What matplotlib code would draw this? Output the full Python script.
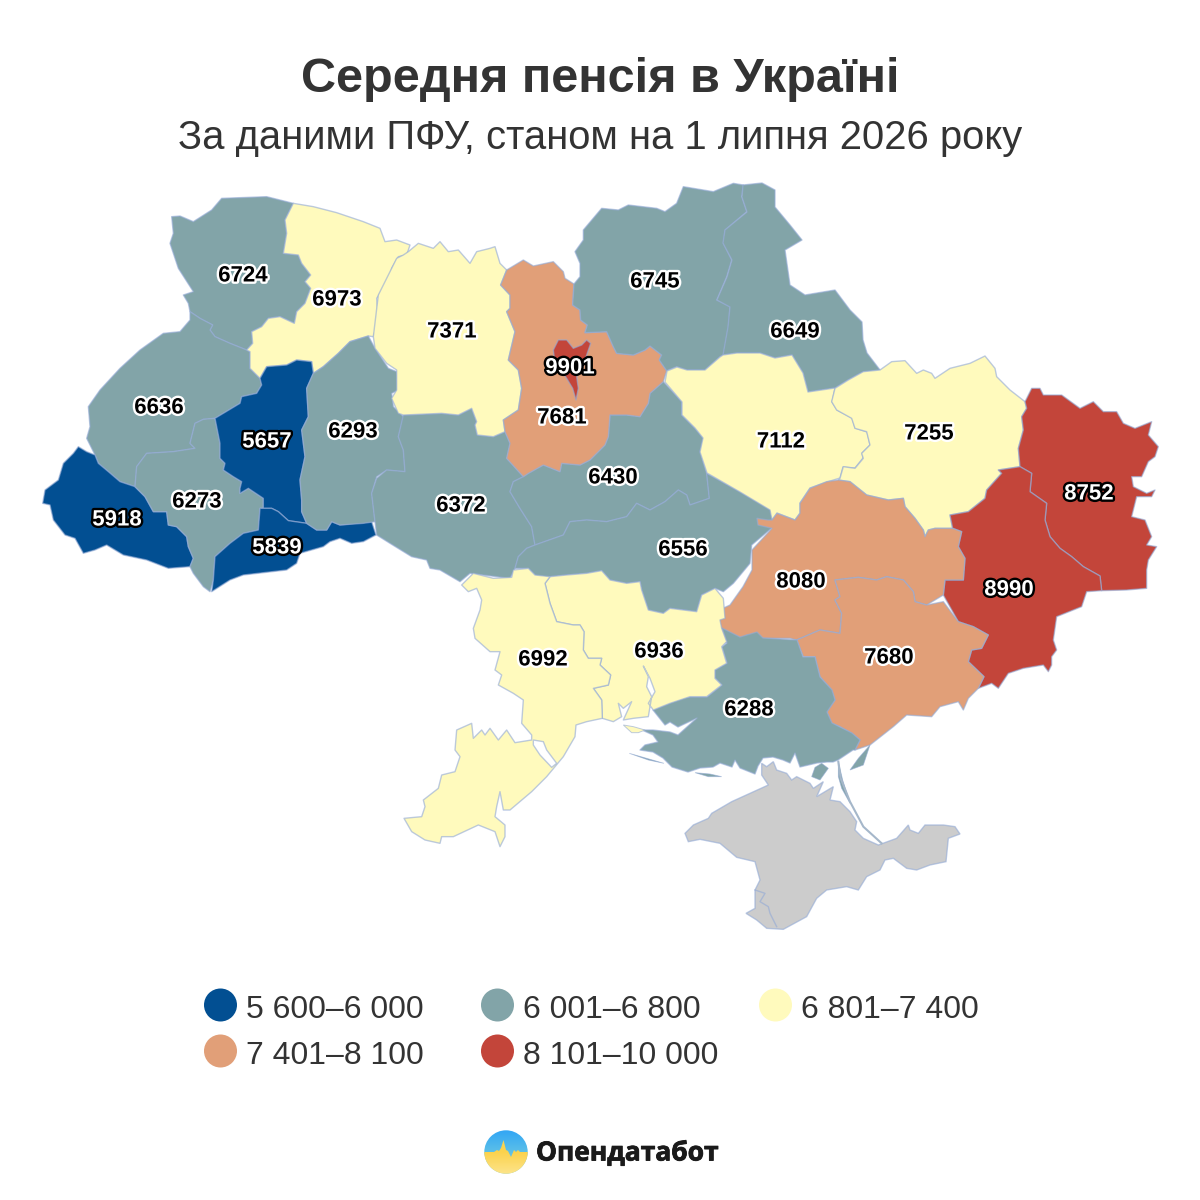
import numpy as np
import matplotlib
matplotlib.use("Agg")
import matplotlib.pyplot as plt
import matplotlib.patheffects as pe
from matplotlib.colors import BoundaryNorm, ListedColormap, LinearSegmentedColormap
from matplotlib.patches import Polygon, Circle

# ---------- data ----------
TITLE = "Середня пенсія в Україні"
SUBTITLE = "За даними ПФУ, станом на 1 липня 2026 року"
legend_labels = ["5 600–6 000", "6 001–6 800", "6 801–7 400", "7 401–8 100", "8 101–10 000"]
bin_edges = [5600, 6000.5, 6800.5, 7400.5, 8100.5, 10000]
bin_colors = ["#024f92", "#82a4a8", "#fffabd", "#e19f78", "#c3453a"]
no_data_color = "#cccccc"

values = {
    "Volyn": 6724, "Rivne": 6973, "Zhytomyr": 7371, "Chernihiv": 6745, "Sumy": 6649,
    "Kyiv city": 9901, "Kyiv": 7681, "Lviv": 6636, "Ternopil": 5657, "Khmelnytskyi": 6293,
    "Poltava": 7112, "Kharkiv": 7255, "Cherkasy": 6430, "Zakarpattia": 5918,
    "Ivano-Frankivsk": 6273, "Vinnytsia": 6372, "Chernivtsi": 5839, "Luhansk": 8752,
    "Kirovohrad": 6556, "Dnipro": 8080, "Donetsk": 8990, "Zaporizhzhia": 7680,
    "Mykolaiv": 6936, "Odesa": 6992, "Kherson": 6288,
}

# label anchor of each region (image pixels)
label_xy = {
    "Volyn": (243, 274), "Rivne": (337, 298), "Zhytomyr": (452, 330), "Chernihiv": (655, 280),
    "Sumy": (795, 330), "Kyiv city": (570, 366), "Kyiv": (562, 416), "Lviv": (159, 406),
    "Ternopil": (267, 440), "Khmelnytskyi": (353, 430), "Poltava": (781, 440), "Kharkiv": (929, 432),
    "Cherkasy": (613, 476), "Zakarpattia": (117, 518), "Ivano-Frankivsk": (197, 500),
    "Vinnytsia": (461, 504), "Chernivtsi": (277, 546), "Luhansk": (1089, 492), "Kirovohrad": (683, 548),
    "Dnipro": (801, 580), "Donetsk": (1009, 588), "Zaporizhzhia": (889, 656), "Mykolaiv": (659, 650),
    "Odesa": (543, 658), "Kherson": (749, 708),
}

# ---------- region geometry: traced at 3x from crops whose origin is given ----------
def crop(ox, oy, pts):
    return [(ox + x / 3, oy + y / 3) for x, y in pts]

A, B, C, D, E = (30, 180), (370, 180), (760, 340), (400, 560), (620, 680)

outlines = {
"Volyn": crop(*A, [(425,110),(450,108),(490,125),(545,90),(575,55),(710,50),(790,70),(765,120),(770,160),(760,220),(805,225),(815,250),(842,285),(825,305),(842,325),(825,370),(800,395),(793,430),(750,410),(715,415),(695,440),(665,455),(668,490),(650,510),(600,490),(555,470),(540,450),(548,435),(510,415),(480,395),(475,370),(460,345),(490,335),(445,265),(420,190),(430,160)]),
"Rivne": crop(*A, [(790,70),(850,80),(920,98),(1000,125),(1050,145),(1065,185),(1100,180),(1140,195),(1130,225),(1105,230),(1085,265),(1080,295),(1040,355),(1045,420),(1030,470),(1015,468),(960,485),(925,520),(880,560),(850,580),(845,545),(800,540),(770,555),(710,560),(690,595),(660,565),(660,515),(650,510),(668,490),(665,455),(695,440),(715,415),(750,410),(793,430),(800,395),(825,370),(842,325),(825,305),(842,285),(815,250),(805,225),(760,220),(770,160),(765,120)]),
"Lviv": crop(*A, [(480,395),(510,415),(548,435),(540,450),(555,470),(600,490),(650,510),(660,515),(660,565),(690,595),(695,615),(680,640),(635,650),(630,670),(555,715),(520,718),(495,730),(480,790),(495,805),(430,815),(350,820),(320,860),(315,920),(270,905),(235,875),(205,850),(195,825),(170,775),(180,740),(175,680),(210,630),(270,565),(330,510),(400,460),(450,455),(480,420)]),
"Ivano-Frankivsk": crop(*A, [(555,715),(570,790),(570,835),(585,850),(580,870),(610,890),(635,905),(630,925),(630,940),(655,925),(700,955),(700,985),(690,985),(685,1050),(640,1060),(600,1090),(555,1130),(550,1200),(540,1235),(520,1220),(490,1180),(480,1160),(490,1135),(475,1100),(470,1070),(440,1040),(415,1035),(410,995),(370,995),(345,950),(315,920),(320,860),(350,820),(430,815),(495,805),(480,790),(495,730),(520,718)]),
"Zakarpattia": crop(*A, [(145,800),(170,815),(195,825),(205,850),(235,875),(270,905),(315,920),(345,950),(370,995),(410,995),(415,1035),(440,1040),(470,1070),(475,1100),(490,1135),(480,1160),(415,1165),(350,1140),(280,1125),(230,1095),(195,1110),(160,1120),(135,1075),(105,1065),(70,1020),(60,975),(38,970),(45,930),(85,900),(100,850),(130,820)]),
"Ternopil": crop(*A, [(710,560),(770,555),(800,540),(845,545),(850,580),(830,625),(835,710),(815,750),(825,830),(810,900),(815,960),(815,995),(830,1030),(775,1022),(745,995),(725,985),(700,985),(700,955),(655,925),(630,940),(630,925),(635,905),(610,890),(580,870),(585,850),(570,835),(570,790),(555,715),(630,670),(635,650),(680,640),(695,615),(690,595)]),
"Chernivtsi": crop(*A, [(690,985),(725,985),(745,995),(775,1022),(830,1030),(860,1050),(890,1050),(905,1025),(930,1035),(1025,1025),(1038,1065),(1000,1085),(965,1090),(930,1075),(900,1085),(880,1100),(810,1120),(800,1150),(770,1170),(640,1185),(600,1200),(545,1235),(550,1200),(555,1130),(600,1090),(640,1060),(685,1050)]),
"Khmelnytskyi": crop(*A, [(850,580),(880,560),(925,520),(960,485),(1015,468),(1035,505),(1075,565),(1100,575),(1105,630),(1085,640),(1090,680),(1115,705),(1120,710),(1105,770),(1120,810),(1125,875),(1070,870),(1040,890),(1025,940),(1035,1025),(1000,1030),(930,1035),(905,1025),(890,1050),(860,1050),(830,1030),(815,995),(815,960),(810,900),(825,830),(815,750),(835,710),(830,625)]),
"Zhytomyr": crop(*B, [(115,215),(145,190),(190,205),(210,185),(235,215),(265,210),(300,250),(320,215),(360,205),(375,200),(390,250),(410,270),(392,315),(420,345),(420,385),(410,395),(435,455),(415,540),(445,570),(455,625),(445,690),(400,720),(405,755),(370,770),(322,765),(315,735),(320,725),(305,685),(265,705),(215,700),(100,705),(85,700),(65,655),(80,630),(80,570),(50,550),(15,505),(10,470),(25,345),(65,265),(80,235),(100,225)]),
"Kyiv": crop(*B, [(410,270),(460,240),(490,258),(550,245),(580,275),(585,295),(612,312),(608,375),(630,390),(632,420),(652,435),(645,458),(710,455),(730,500),(740,520),(790,525),(825,510),(840,498),(875,525),(868,540),(890,572),(880,605),(840,640),(835,670),(810,710),(770,705),(720,705),(715,770),(705,795),(660,840),(630,855),(575,850),(570,875),(520,855),(475,880),(460,890),(410,835),(420,790),(405,755),(400,720),(445,690),(455,625),(445,570),(415,540),(435,455),(410,395),(420,385),(420,345),(392,315)]),
"Kyiv city": crop(*B, [(550,510),(565,480),(590,480),(610,505),(635,495),(650,480),(662,490),(650,525),(640,560),(620,590),(625,625),(618,660),(608,625),(590,595),(580,580),(555,550)]),
"Chernihiv": crop(*B, [(615,215),(640,180),(640,150),(695,85),(745,90),(775,75),(860,85),(885,95),(920,70),(940,20),(1030,35),(1090,10),(1120,15),(1115,50),(1130,95),(1065,150),(1060,190),(1085,240),(1070,290),(1040,360),(1080,380),(1075,440),(1060,525),(1050,530),(1005,570),(950,570),(920,560),(890,572),(868,540),(875,525),(840,498),(825,510),(790,525),(740,520),(730,500),(710,455),(645,458),(652,435),(632,420),(630,390),(608,375),(612,312),(630,290),(630,250)]),
"Sumy": [(743,185),(762,183),(775,190),(775,207),(790,225),(802,240),(785,250),(790,285),(805,295),(835,290),(850,310),(862,322),(863,340),(867,353),(880,370),(863,372),(848,380),(835,388),(808,392),(803,373),(792,355),(775,358),(760,353),(737,353),(723,355),(728,327),(730,307),(717,300),(727,277),(732,260),(723,243),(725,230),(747,212),(742,197)],
"Poltava": [(667,371),(677,367),(687,370),(705,370),(720,357),(723,355),(737,353),(760,353),(775,358),(792,355),(803,373),(808,392),(835,388),(832,402),(837,410),(852,418),(855,428),(867,432),(870,445),(862,453),(863,458),(855,468),(843,467),(840,478),(827,482),(810,488),(800,503),(800,513),(795,520),(777,513),(772,520),(770,510),(740,492),(707,473),(700,452),(703,438),(695,428),(682,415),(682,402),(665,382)],
"Kharkiv": crop(*C, [(225,145),(265,120),(310,95),(360,90),(395,65),(435,62),(470,100),(490,90),(515,100),(525,115),(570,85),(630,70),(675,48),(705,85),(710,110),(750,150),(795,185),(800,205),(785,230),(790,270),(775,325),(780,380),(715,390),(725,400),(680,450),(675,475),(625,515),(570,525),(578,565),(525,565),(505,570),(495,590),(490,570),(465,535),(435,500),(430,475),(385,480),(320,465),(270,425),(235,420),(240,415),(250,380),(285,385),(310,355),(305,340),(330,315),(320,275),(285,265),(275,235),(230,210),(215,185)]),
"Luhansk": crop(*C, [(815,145),(840,145),(850,165),(905,165),(960,205),(1000,185),(1030,215),(1070,215),(1090,250),(1125,265),(1175,245),(1165,285),(1195,320),(1185,350),(1165,365),(1145,410),(1115,410),(1120,440),(1160,460),(1185,450),(1175,470),(1130,470),(1115,530),(1155,540),(1175,590),(1160,615),(1190,620),(1165,660),(1160,690),(1160,745),(1100,750),(1025,752),(1020,708),(970,680),(935,650),(900,625),(870,590),(855,540),(860,490),(810,455),(815,400),(780,380),(775,325),(790,270),(785,230),(800,205),(795,185)]),
"Donetsk": crop(*C, [(780,380),(815,400),(810,455),(860,490),(855,540),(870,590),(900,625),(935,650),(970,680),(1020,708),(1025,752),(980,755),(965,800),(890,830),(880,900),(890,930),(875,950),(875,975),(865,995),(850,975),(790,985),(745,1000),(715,1045),(695,1030),(655,1045),(672,1010),(625,965),(635,930),(665,925),(685,885),(640,860),(595,845),(550,765),(555,720),(610,720),(615,655),(595,620),(605,575),(578,565),(570,525),(625,515),(675,475),(680,450),(725,400),(715,390)]),
"Vinnytsia": crop(*B, [(100,705),(215,700),(265,705),(305,685),(320,725),(315,735),(322,765),(370,770),(405,755),(420,790),(410,835),(460,890),(430,905),(420,935),(450,985),(485,1040),(495,1095),(470,1105),(445,1130),(435,1165),(420,1195),(300,1180),(270,1205),(210,1170),(180,1165),(170,1140),(125,1130),(60,1090),(20,1065),(15,1025),(5,940),(20,895),(50,870),(105,875),(100,810),(85,770)]),
"Cherkasy": crop(*B, [(460,890),(475,880),(520,855),(570,875),(575,850),(630,855),(660,840),(705,795),(715,770),(720,705),(770,705),(810,710),(835,670),(840,640),(880,605),(935,665),(935,705),(975,745),(1000,775),(990,815),(1010,880),(1018,955),(960,975),(950,945),(925,930),(885,965),(840,990),(800,970),(770,1010),(710,1025),(650,1020),(600,1025),(580,1065),(495,1095),(485,1040),(450,985),(420,935),(430,905)]),
"Kirovohrad": crop(*B, [(495,1095),(580,1065),(600,1025),(650,1020),(710,1025),(770,1010),(800,970),(840,990),(885,965),(925,930),(950,945),(960,975),(1018,955),(1010,880),(1110,935),(1205,990),(1210,1040),(1145,1095),(1140,1150),(1090,1210),(1060,1235),(1036,1225),(995,1245),(980,1295),(900,1285),(880,1300),(835,1290),(815,1230),(810,1205),(770,1210),(720,1200),(695,1172),(650,1180),(590,1185),(540,1190),(525,1210),(495,1185),(475,1165),(435,1165),(445,1130),(470,1105)]),
"Dnipro": crop(*C, [(235,420),(270,425),(320,465),(385,480),(430,475),(435,500),(465,535),(490,570),(495,590),(505,570),(525,565),(578,565),(605,575),(595,620),(615,655),(610,720),(555,720),(550,765),(500,795),(465,785),(460,755),(430,720),(380,710),(350,720),(295,712),(225,720),(240,770),(225,780),(245,820),(240,880),(180,870),(110,900),(90,895),(9,895),(-9,895),(-39,885),(-54,895),(-114,910),(-165,925),(-180,920),(-171,845),(-144,820),(-90,795),(-51,740),(-24,690),(-24,630),(36,565),(-6,555),(-9,535),(24,540),(36,540),(51,520),(105,540),(120,520),(120,490),(150,445),(200,425)]),
"Zaporizhzhia": crop(*C, [(225,720),(295,712),(350,720),(380,710),(430,720),(460,755),(465,785),(500,795),(550,785),(595,845),(640,860),(685,885),(665,925),(635,930),(625,965),(672,1010),(655,1045),(625,1075),(610,1110),(595,1085),(540,1100),(515,1130),(440,1125),(400,1160),(330,1215),(285,1230),(300,1200),(275,1180),(240,1160),(215,1150),(200,1115),(225,1080),(215,1050),(180,1010),(165,950),(130,950),(110,900),(180,870),(240,880),(245,820),(225,780),(240,770)]),
"Kherson": [(722,628),(740,637),(757,632),(763,638),(797,640),(803,657),(815,657),(820,677),(832,690),(835,700),(827,712),(832,723),(840,727),(852,733),(860,740),(855,750),(853,750),(838,760),(833,762),(827,762),(817,763),(800,767),(795,753),(790,763),(783,760),(773,757),(763,758),(758,766),(755,774),(740,768),(735,760),(732,767),(720,763),(713,767),(700,768),(688,772),(672,767),(663,758),(653,752),(640,750),(645,745),(658,742),(653,735),(642,730),(653,730),(670,732),(678,735),(697,718),(678,727),(670,722),(665,725),(653,710),(670,703),(683,698),(690,697),(707,697),(722,685),(715,678),(715,670),(727,663),(722,647),(727,643)],
"Mykolaiv": crop(*D, [(435,70),(450,50),(500,45),(560,40),(605,32),(630,60),(680,70),(720,65),(725,90),(745,150),(790,160),(810,145),(890,155),(905,105),(945,85),(970,115),(975,175),(960,180),(965,205),(980,245),(965,260),(980,310),(945,330),(945,355),(965,375),(920,410),(870,410),(810,430),(760,450),(745,430),(765,395),(750,355),(730,318),(745,350),(740,380),(755,410),(745,470),(700,475),(670,480),(695,425),(670,445),(655,430),(665,470),(640,485),(607,475),(605,420),(580,385),(625,375),(632,345),(600,315),(605,295),(565,295),(550,270),(552,215),(540,195),(520,195),(470,185),(450,130)]),
"Odesa": crop(*D, [(185,75),(220,40),(280,55),(335,52),(340,30),(385,25),(405,45),(450,50),(435,70),(450,130),(470,185),(520,195),(540,195),(552,215),(550,270),(565,295),(605,295),(600,315),(632,345),(625,375),(580,385),(605,420),(607,475),(560,485),(528,495),(525,530),(490,590),(440,650),(395,695),(330,750),(310,750),(300,695),(290,740),(285,770),(315,795),(315,830),(300,860),(285,815),(235,795),(160,830),(125,830),(120,850),(75,840),(35,815),(12,775),(65,770),(75,740),(70,720),(115,685),(125,645),(165,635),(180,590),(165,570),(170,510),(215,490),(220,535),(245,510),(255,525),(270,505),(295,540),(320,510),(345,548),(395,540),(395,525),(365,490),(370,420),(340,400),(295,375),(305,345),(285,330),(300,275),(270,275),(225,235),(220,205),(240,150),(245,120),(230,85),(205,95)]),
}

draw_order = ["Volyn", "Lviv", "Rivne", "Zakarpattia", "Ivano-Frankivsk", "Ternopil", "Chernivtsi", "Khmelnytskyi",
              "Vinnytsia", "Cherkasy", "Kirovohrad", "Zhytomyr", "Kyiv", "Kyiv city", "Chernihiv", "Sumy", "Poltava",
              "Kharkiv", "Luhansk", "Donetsk", "Dnipro", "Zaporizhzhia", "Kherson", "Mykolaiv", "Odesa"]

crimea = crop(*E, [(425,250),(440,260),(460,245),(470,270),(500,280),(515,300),(530,290),(570,310),(580,325),(610,305),(590,350),(640,320),(630,360),(660,365),(690,395),(710,425),(705,450),(730,475),(775,495),(830,475),(865,435),(870,450),(895,460),(915,435),(970,435),(1005,440),(1020,462),(985,475),(978,545),(930,555),(890,570),(860,565),(820,535),(795,540),(780,570),(740,590),(715,630),(680,620),(620,630),(590,655),(560,710),(490,748),(440,745),(410,720),(378,700),(405,685),(405,630),(420,600),(405,545),(350,532),(300,490),(240,478),(205,485),(195,460),(220,435),(265,415),(275,400),(335,365),(390,340),(445,315),(425,285)])
sevastopol_line = crop(*E, [(405,630),(435,640),(420,665),(445,680),(450,700),(470,740)])
arabat_spit = crop(*E, [(655,245),(662,295),(690,365),(730,440),(785,490)])
kherson_islands = [
    crop(*E, [(28,220),(80,235),(132,250),(85,240)]),
    crop(*E, [(225,278),(270,282),(305,290),(265,290)]),
    crop(*E, [(575,290),(585,262),(605,250),(625,265),(600,300)]),
    crop(*E, [(690,270),(715,235),(750,195),(730,255)]),
    crop(*E, [(655,245),(668,300),(690,370),(665,325),(655,290)]),
]
kinburn = crop(*D, [(670,495),(700,500),(735,510),(715,518),(695,518)])
dniester_liman = crop(*D, [(400,540),(430,545),(440,570),(470,610),(455,622),(420,585),(400,555)])

legend_pos = [(220.5, 1005), (497.5, 1005), (775.5, 1005), (220.5, 1051), (497.5, 1051)]

# ---------- drawing ----------
plt.rcParams["font.family"] = ["Liberation Sans", "DejaVu Sans"]
fig = plt.figure(figsize=(12, 12), dpi=100)
ax = fig.add_axes([0, 0, 1, 1])
ax.set_xlim(0, 1200)
ax.set_ylim(1200, 0)
ax.axis("off")

cmap = ListedColormap(bin_colors)
norm = BoundaryNorm(bin_edges, cmap.N)
EDGE = (0.58, 0.67, 0.84, 0.62)

for name in draw_order:
    ax.add_patch(Polygon(outlines[name], closed=True, facecolor=cmap(norm(values[name])),
                         edgecolor=EDGE, linewidth=1.0, joinstyle="round", zorder=2))
ax.add_patch(Polygon(dniester_liman, closed=True, facecolor="white", edgecolor=EDGE, linewidth=1.0, zorder=3))
ax.add_patch(Polygon(kinburn, closed=True, facecolor=bin_colors[2], edgecolor=EDGE, linewidth=0.7, zorder=2))
for isl in kherson_islands:
    ax.add_patch(Polygon(isl, closed=True, facecolor=cmap(norm(values["Kherson"])), edgecolor=EDGE,
                         linewidth=0.6, zorder=2))
ax.add_patch(Polygon(crimea, closed=True, facecolor=no_data_color, edgecolor=EDGE, linewidth=1.0, zorder=2))
ax.plot(*zip(*sevastopol_line), color=EDGE, lw=1.0, zorder=3)
ax.plot(*zip(*arabat_spit), color="#a5b7ca", lw=1.5, zorder=2)

for name, val in values.items():
    x, y = label_xy[name]
    dark = norm(val) in (0, 4)
    fg, halo = ("white", "black") if dark else ("black", "white")
    ax.text(x, y + 2, str(val), ha="center", va="center", fontsize=16, fontweight="bold", color=fg, zorder=5,
            path_effects=[pe.withStroke(linewidth=3.4, foreground=halo)])

ax.text(600, 79, TITLE, ha="center", va="center", fontsize=35, fontweight="bold", color="#333333")
ax.text(600, 138, SUBTITLE, ha="center", va="center", fontsize=28.8, color="#333333")

for (cx, cy), lab, col in zip(legend_pos, legend_labels, bin_colors):
    ax.add_patch(Circle((cx, cy), 16.5, facecolor=col, edgecolor="none", zorder=3))
    ax.text(cx + 25.5, cy + 5, lab, ha="left", va="center", fontsize=23, color="#333333")

# logo
lx, ly, lr = 506, 1152, 21.7
sky = LinearSegmentedColormap.from_list("sky", ["#32a6f5", "#5cc0e8", "#8fd0c0"])
sun = LinearSegmentedColormap.from_list("sun", ["#f3d95a", "#fbd24c", "#fde48a"])
grad = np.linspace(0, 1, 64).reshape(-1, 1)
ext = (lx - lr, lx + lr, ly + lr, ly - lr)
im1 = ax.imshow(grad, cmap=sky, extent=ext, aspect="auto", zorder=3)
im1.set_clip_path(Circle((lx, ly), lr, transform=ax.transData))
im2 = ax.imshow(grad, cmap=sun, extent=ext, aspect="auto", zorder=4)
theta = np.linspace(0, np.pi, 40)
arc = [(lx + lr * np.cos(t), ly + lr * np.sin(t)) for t in theta]
skyline = [(484.3, 1152), (494, 1152), (497, 1150), (499, 1151), (501, 1148), (503.5, 1140), (506, 1150), (508, 1151),
           (511, 1157), (514, 1150), (516, 1152), (518, 1150), (520, 1152), (527.7, 1152)]
im2.set_clip_path(Polygon(arc + skyline, closed=True, transform=ax.transData))
ax.set_xlim(0, 1200)
ax.set_ylim(1200, 0)
ax.text(536, 1153, "Опендатабот", ha="left", va="center", fontsize=19, fontweight="bold",
        family=["Open Sans", "DejaVu Sans"], color="#1a1a1a",
        path_effects=[pe.withStroke(linewidth=0.6, foreground="#1a1a1a")])

fig.savefig("out.png", dpi=100, facecolor="white")
